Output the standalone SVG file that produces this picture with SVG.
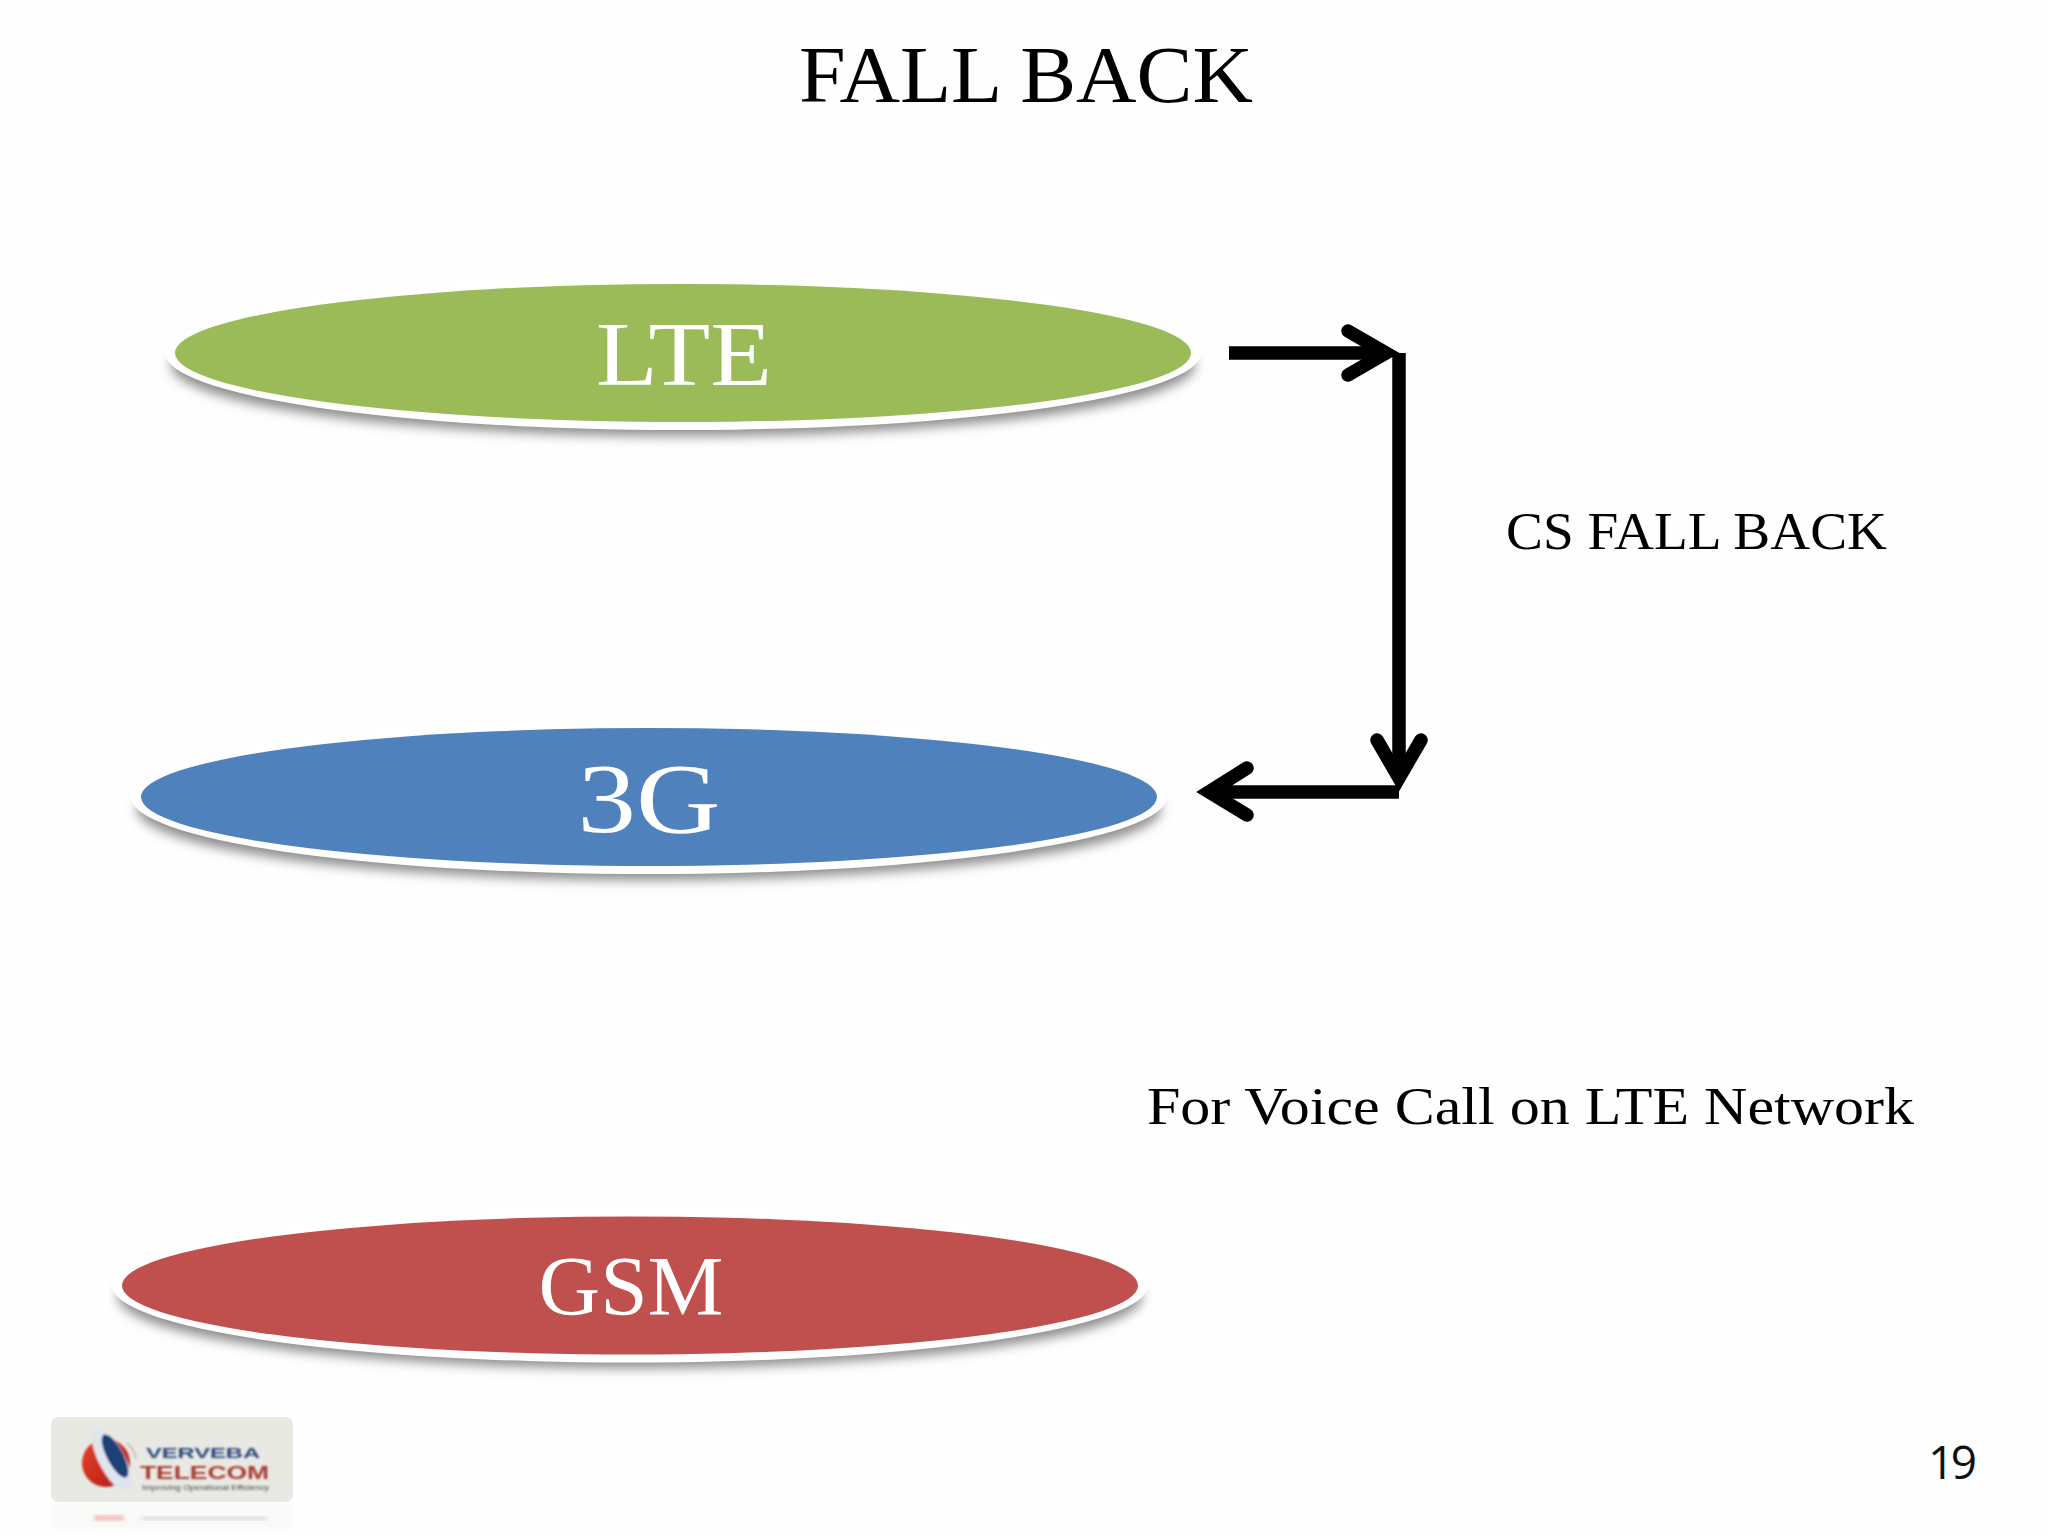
<svg xmlns="http://www.w3.org/2000/svg" width="2048" height="1536" viewBox="0 0 2048 1536">
<style>
.t{font-family:"Liberation Serif","Times New Roman",serif;fill:#000}
.n{font-family:"Liberation Serif","Times New Roman",serif;fill:#fff;text-anchor:middle}
.ring{fill:#fff}
.sh{fill:#8c8c8c;filter:url(#b)}
.c{fill:none;stroke:#000;stroke-width:13.500}
.h{fill:none;stroke:#000;stroke-width:13.500;stroke-linecap:round;stroke-linejoin:miter;stroke-miterlimit:10}
</style>
<defs>
<filter id="b" x="-5%" y="-30%" width="110%" height="160%"><feGaussianBlur stdDeviation="6"/></filter>
<filter id="s" x="-5%" y="-5%" width="110%" height="110%"><feGaussianBlur stdDeviation="0.8"/></filter>
<filter id="r" x="-5%" y="-30%" width="110%" height="160%"><feGaussianBlur stdDeviation="2"/></filter>
<linearGradient id="red" x1="0" y1="0" x2="1" y2="1"><stop offset="0" stop-color="#e8402a"/><stop offset="1" stop-color="#b01c14"/></linearGradient>
</defs>
<rect width="2048" height="1536" fill="#fefefe"/>
<text id="title" class="t" x="799" y="102" font-size="80" textLength="454" lengthAdjust="spacingAndGlyphs">FALL BACK</text>
<g id="node-lte">
<ellipse class="sh" cx="683" cy="365" rx="512" ry="71"/>
<ellipse class="ring" cx="683" cy="353" rx="518" ry="77"/>
<ellipse cx="683" cy="353" rx="508" ry="69" fill="#9BBB59"/>
<text class="n" x="684" y="385" font-size="92" textLength="176" lengthAdjust="spacingAndGlyphs">LTE</text>
</g>
<g id="node-3g">
<ellipse class="sh" cx="649" cy="809" rx="512" ry="71"/>
<ellipse class="ring" cx="649" cy="797" rx="518" ry="77"/>
<ellipse cx="649" cy="797" rx="508" ry="69" fill="#4F81BD"/>
<text class="n" x="649" y="832" font-size="100" textLength="143" lengthAdjust="spacingAndGlyphs">3G</text>
</g>
<g id="node-gsm">
<ellipse class="sh" cx="630" cy="1297" rx="512" ry="71"/>
<ellipse class="ring" cx="630" cy="1285.500" rx="518" ry="77"/>
<ellipse cx="630" cy="1285.500" rx="508" ry="69" fill="#C0504D"/>
<text class="n" x="631" y="1315" font-size="84" textLength="185" lengthAdjust="spacingAndGlyphs">GSM</text>
</g>
<g id="connectors">
<path class="c" d="M1229 353H1388"/>
<path class="h" d="M1348 331L1386 353L1348 375"/>
<path class="c" d="M1399 353V770"/>
<path class="h" d="M1377 740L1399 778L1421 740"/>
<path class="c" d="M1399 792H1215"/>
<path class="h" d="M1247 768L1209 792L1247 815"/>
</g>
<text id="label-cs" class="t" x="1506" y="549" font-size="52" textLength="381" lengthAdjust="spacingAndGlyphs">CS FALL BACK</text>
<text id="label-voice" class="t" x="1147" y="1124" font-size="52" textLength="767" lengthAdjust="spacingAndGlyphs">For Voice Call on LTE Network</text>
<text id="page" x="1928" y="1479" font-family="'Open Sans','Liberation Sans',sans-serif" font-size="46" fill="#111" textLength="49">19</text>
<g id="logo">
<rect x="51" y="1417" width="242" height="85" rx="7" fill="#e9e9e3"/>
<rect x="51" y="1504" width="242" height="26" fill="#f7f7f5" opacity=".6" filter="url(#r)"/>
<rect x="94" y="1516" width="30" height="4" fill="#f0a8a0" filter="url(#r)"/>
<rect x="142" y="1517" width="125" height="3" fill="#d0d0d0" filter="url(#r)"/>
<g filter="url(#s)">
<circle cx="106" cy="1463" r="24" fill="url(#red)"/>
<ellipse cx="112" cy="1460" rx="13" ry="35" transform="rotate(-28 112 1460)" fill="#dfe4ee"/>
<ellipse cx="115" cy="1456" rx="8" ry="24" transform="rotate(-28 115 1456)" fill="#1f3f78"/>
<path d="M127 1443q8 7 9 16" fill="none" stroke="#c4c4c0" stroke-width="2"/>
<text x="146" y="1458" font-family="'Liberation Sans',sans-serif" font-weight="bold" font-size="15" fill="#2c4a80" textLength="114" lengthAdjust="spacingAndGlyphs">VERVEBA</text>
<text x="140" y="1479" font-family="'Liberation Sans',sans-serif" font-weight="bold" font-size="19" fill="#a83a30" textLength="129" lengthAdjust="spacingAndGlyphs">TELECOM</text>
<text x="142" y="1489.500" font-family="'Liberation Sans',sans-serif" font-size="7" fill="#444" textLength="127" lengthAdjust="spacingAndGlyphs">Improving Operational Efficiency</text>
</g>
</g>
</svg>
